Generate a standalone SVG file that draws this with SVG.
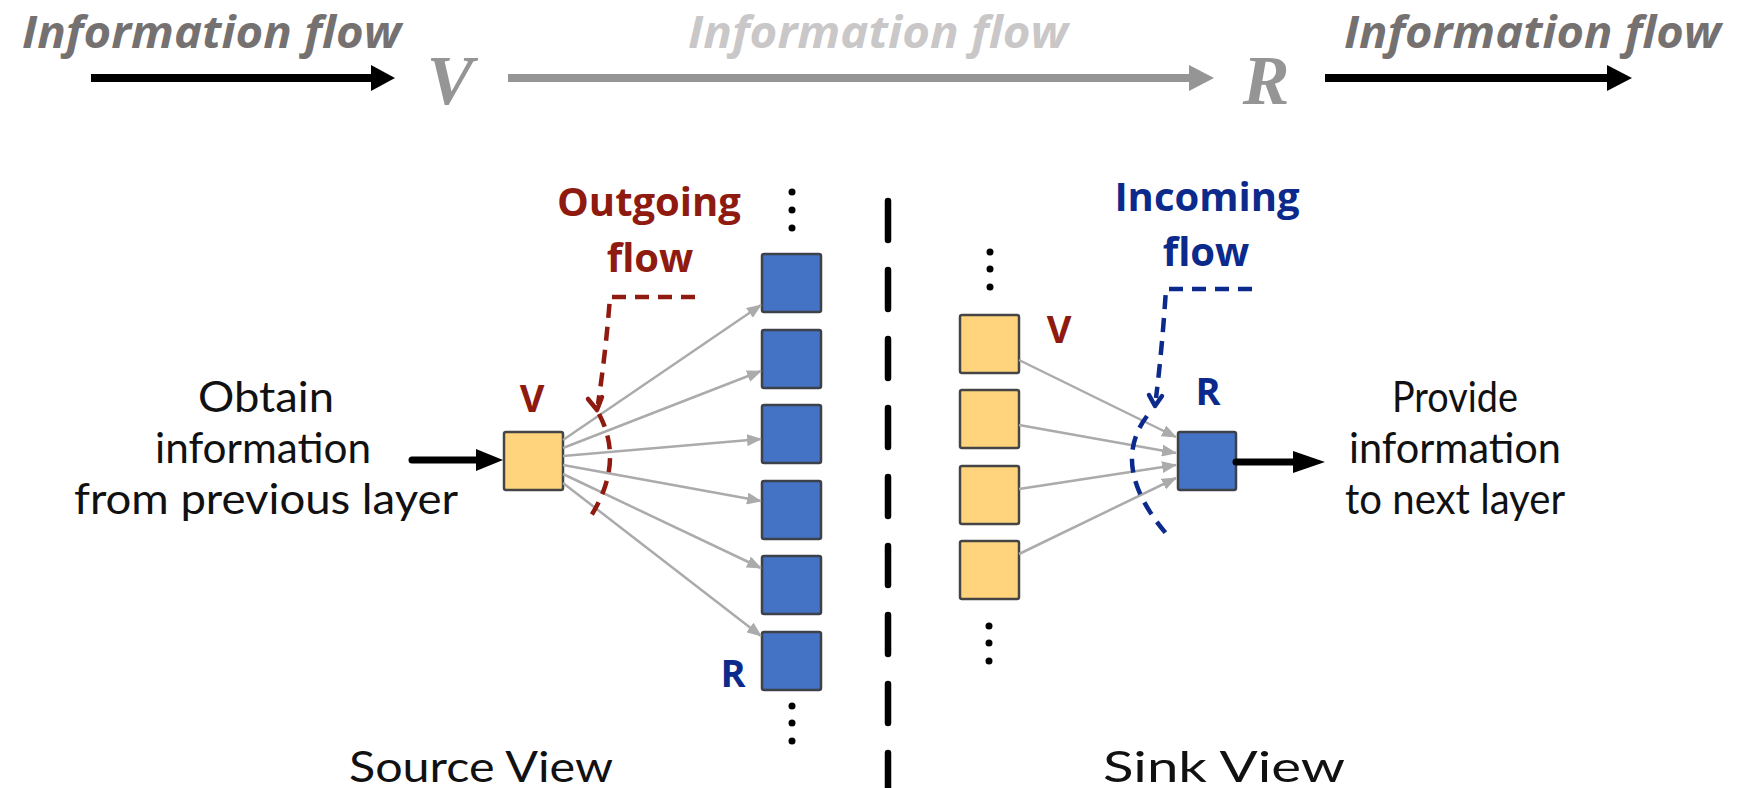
<svg xmlns="http://www.w3.org/2000/svg" width="1739" height="788" viewBox="0 0 1739 788">
  <defs>
    <style>
      .title { font-family: "Open Sans", "Liberation Sans", sans-serif; font-weight: 700; font-style: italic; font-size: 45px; }
      .var { font-family: "Liberation Serif", serif; font-style: italic; font-weight: 700; font-size: 70px; fill: #959595; }
      .body { font-family: Lato, "Open Sans", sans-serif; font-size: 42px; fill: #111; text-anchor: middle; }
      .flow { font-family: "Open Sans", "Liberation Sans", sans-serif; font-weight: 700; font-size: 40px; text-anchor: middle; }
      .lbl { font-family: "Open Sans", "Liberation Sans", sans-serif; font-weight: 700; font-size: 38px; text-anchor: middle; }
      .red { fill: #8e1a10; }
      .blue { fill: #0c2a8c; }
      .src { fill: #ffd47c; stroke: #454545; stroke-width: 2.5; }
      .snk { fill: #4472c4; stroke: #3c414c; stroke-width: 2.5; }
      .edge { stroke: #ababab; stroke-width: 2.5; fill: none; marker-end: url(#gh); }
      .cutR { stroke: #8e1a10; stroke-width: 4.5; fill: none; stroke-dasharray: 14 9; }
      .cutB { stroke: #0c2a8c; stroke-width: 4.5; fill: none; stroke-dasharray: 14 9; }
      .dot { fill: #000; }
    </style>
    <marker id="gh" markerUnits="userSpaceOnUse" markerWidth="15" markerHeight="12" refX="14" refY="6" orient="auto">
      <path d="M0,0 L15,6 L0,12 Z" fill="#ababab"/>
    </marker>
  </defs>

  <!-- top banner: information flow V -> R -->
  <g id="banner">
    <text class="title" x="22" y="48" fill="#767171" textLength="379" lengthAdjust="spacingAndGlyphs">Information flow</text>
    <text class="title" x="688" y="48" fill="#c9c7c7" textLength="380" lengthAdjust="spacingAndGlyphs">Information flow</text>
    <text class="title" x="1344" y="48" fill="#767171" textLength="377" lengthAdjust="spacingAndGlyphs">Information flow</text>
    <line x1="91" y1="78" x2="374" y2="78" stroke="#000" stroke-width="8"/>
    <path d="M371,65 L395,78 L371,91 Z" fill="#000"/>
    <text class="var" x="450" y="104" text-anchor="middle">V</text>
    <line x1="508" y1="78" x2="1192" y2="78" stroke="#959595" stroke-width="8"/>
    <path d="M1189,65 L1214,78 L1189,91 Z" fill="#959595"/>
    <text class="var" x="1266" y="104" text-anchor="middle">R</text>
    <line x1="1325" y1="78" x2="1610" y2="78" stroke="#000" stroke-width="8"/>
    <path d="M1607,65 L1632,78 L1607,91 Z" fill="#000"/>
  </g>

  <!-- divider between the two views -->
  <g id="divider">
    <line x1="888" y1="201" x2="888" y2="800" stroke="#000" stroke-width="6.5" stroke-linecap="round" stroke-dasharray="39 30"/>
  </g>

  <!-- source view -->
  <g id="source-text">
    <text class="body" x="266" y="412" textLength="136" lengthAdjust="spacingAndGlyphs">Obtain</text>
    <text class="body" x="263" y="463" textLength="216" lengthAdjust="spacingAndGlyphs">information</text>
    <text class="body" x="266" y="514" textLength="384" lengthAdjust="spacingAndGlyphs">from previous layer</text>
    <text class="body" x="481" y="782" textLength="264" lengthAdjust="spacingAndGlyphs">Source View</text>
  </g>
  <g id="src-v">
    <rect class="src" x="504" y="432" width="59" height="58" rx="2"/>
    <text class="lbl red" x="532" y="412">V</text>
  </g>
  <g id="src-targets">
    <rect class="snk" x="762" y="254" width="59" height="58" rx="2"/>
    <rect class="snk" x="762" y="330" width="59" height="58" rx="2"/>
    <rect class="snk" x="762" y="405" width="59" height="58" rx="2"/>
    <rect class="snk" x="762" y="481" width="59" height="58" rx="2"/>
    <rect class="snk" x="762" y="556" width="59" height="58" rx="2"/>
    <rect class="snk" x="762" y="632" width="59" height="58" rx="2"/>
    <text class="lbl blue" x="733" y="687">R</text>
    <circle class="dot" cx="792" cy="192" r="3.5"/>
    <circle class="dot" cx="792" cy="210" r="3.5"/>
    <circle class="dot" cx="792" cy="228" r="3.5"/>
    <circle class="dot" cx="792" cy="706" r="3.5"/>
    <circle class="dot" cx="792" cy="723" r="3.5"/>
    <circle class="dot" cx="792" cy="741" r="3.5"/>
  </g>
  <g id="outgoing-label">
    <text class="flow red" x="649" y="216">Outgoing</text>
    <text class="flow red" x="650" y="272">flow</text>
  </g>

  <!-- sink view -->
  <g id="sink-text">
    <text class="body" x="1455" y="412" textLength="126" lengthAdjust="spacingAndGlyphs">Provide</text>
    <text class="body" x="1455" y="463" textLength="212" lengthAdjust="spacingAndGlyphs">information</text>
    <text class="body" x="1455" y="514" textLength="220" lengthAdjust="spacingAndGlyphs">to next layer</text>
    <text class="body" x="1224" y="782" textLength="242" lengthAdjust="spacingAndGlyphs">Sink View</text>
  </g>
  <g id="snk-sources">
    <rect class="src" x="960" y="315" width="59" height="58" rx="2"/>
    <rect class="src" x="960" y="390" width="59" height="58" rx="2"/>
    <rect class="src" x="960" y="466" width="59" height="58" rx="2"/>
    <rect class="src" x="960" y="541" width="59" height="58" rx="2"/>
    <text class="lbl red" x="1059" y="343">V</text>
    <circle class="dot" cx="990" cy="252" r="3.5"/>
    <circle class="dot" cx="990" cy="269" r="3.5"/>
    <circle class="dot" cx="990" cy="287" r="3.5"/>
    <circle class="dot" cx="989" cy="626" r="3.5"/>
    <circle class="dot" cx="989" cy="643" r="3.5"/>
    <circle class="dot" cx="989" cy="661" r="3.5"/>
  </g>
  <g id="snk-r">
    <rect class="snk" x="1178" y="432" width="58" height="58" rx="2"/>
    <text class="lbl blue" x="1208" y="405">R</text>
  </g>
  <g id="incoming-label">
    <text class="flow blue" x="1207" y="211">Incoming</text>
    <text class="flow blue" x="1206" y="266">flow</text>
  </g>

  <!-- connectors -->
  <g id="connectors">
    <line x1="412" y1="460" x2="480" y2="460" stroke="#000" stroke-width="7" stroke-linecap="round"/>
    <path d="M476,449 L503,460 L476,471 Z" fill="#000"/>

    <line class="edge" x1="563" y1="440" x2="761" y2="305"/>
    <line class="edge" x1="563" y1="448" x2="761" y2="371"/>
    <line class="edge" x1="563" y1="456" x2="761" y2="439"/>
    <line class="edge" x1="563" y1="465" x2="761" y2="501"/>
    <line class="edge" x1="563" y1="474" x2="761" y2="568"/>
    <line class="edge" x1="563" y1="483" x2="761" y2="636"/>

    <line class="edge" x1="1019" y1="360" x2="1176" y2="437"/>
    <line class="edge" x1="1019" y1="425" x2="1176" y2="453"/>
    <line class="edge" x1="1019" y1="489" x2="1176" y2="465"/>
    <line class="edge" x1="1019" y1="554" x2="1176" y2="478"/>

    <line x1="1236" y1="462" x2="1298" y2="462" stroke="#000" stroke-width="7" stroke-linecap="round"/>
    <path d="M1293,451 L1325,462 L1293,473 Z" fill="#000"/>

    <!-- outgoing cut and callout -->
    <path class="cutR" d="M695,297 L610,297 Q606,350 598,404"/>
    <path d="M588,399 L597,410 L602,397" fill="none" stroke="#8e1a10" stroke-width="4.5" stroke-linejoin="round" stroke-linecap="round"/>
    <path class="cutR" d="M599,414 Q626,465 587,522"/>

    <!-- incoming cut and callout -->
    <path class="cutB" d="M1252,289 L1166,289 Q1162,350 1156,398"/>
    <path d="M1149,395 L1155,406 L1162,396" fill="none" stroke="#0c2a8c" stroke-width="4.5" stroke-linejoin="round" stroke-linecap="round"/>
    <path class="cutB" d="M1147,416 Q1108,468 1170,538"/>
  </g>
</svg>
